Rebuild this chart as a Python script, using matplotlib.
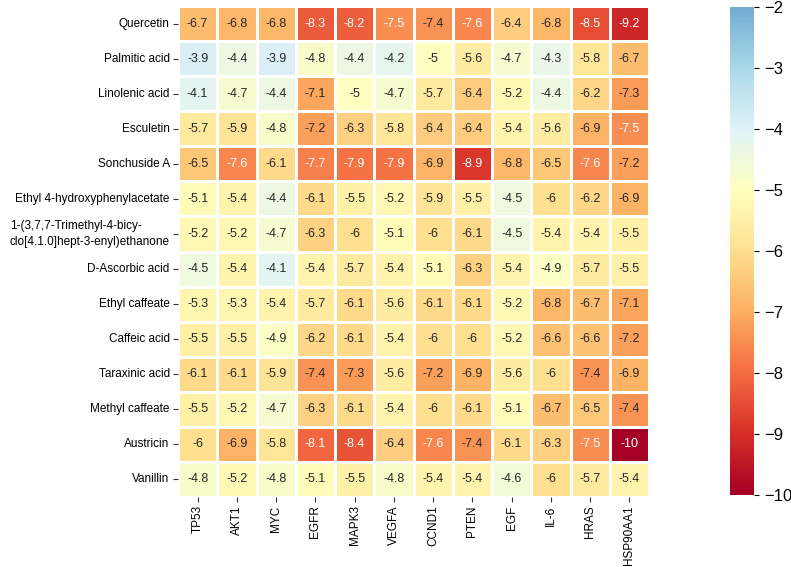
import matplotlib
matplotlib.use("Agg")
import matplotlib.pyplot as plt
import numpy as np
import seaborn as sns

compounds = ["Quercetin", "Palmitic acid", "Linolenic acid", "Esculetin", "Sonchuside A",
             "Ethyl 4-hydroxyphenylacetate",
             "1-(3,7,7-Trimethyl-4-bicy-\nclo[4.1.0]hept-3-enyl)ethanone",
             "D-Ascorbic acid", "Ethyl caffeate", "Caffeic acid", "Taraxinic acid",
             "Methyl caffeate", "Austricin", "Vanillin"]
targets = ["TP53", "AKT1", "MYC", "EGFR", "MAPK3", "VEGFA", "CCND1", "PTEN", "EGF",
           "IL-6", "HRAS", "HSP90AA1"]

quercetin = [-6.7, -6.8, -6.8, -8.3, -8.2, -7.5, -7.4, -7.6, -6.4, -6.8, -8.5, -9.2]
palmitic = [-3.9, -4.4, -3.9, -4.8, -4.4, -4.2, -5, -5.6, -4.7, -4.3, -5.8, -6.7]
linolenic = [-4.1, -4.7, -4.4, -7.1, -5, -4.7, -5.7, -6.4, -5.2, -4.4, -6.2, -7.3]
esculetin = [-5.7, -5.9, -4.8, -7.2, -6.3, -5.8, -6.4, -6.4, -5.4, -5.6, -6.9, -7.5]
sonchuside = [-6.5, -7.6, -6.1, -7.7, -7.9, -7.9, -6.9, -8.9, -6.8, -6.5, -7.6, -7.2]
ethyl_hpa = [-5.1, -5.4, -4.4, -6.1, -5.5, -5.2, -5.9, -5.5, -4.5, -6, -6.2, -6.9]
trimethyl = [-5.2, -5.2, -4.7, -6.3, -6, -5.1, -6, -6.1, -4.5, -5.4, -5.4, -5.5]
ascorbic = [-4.5, -5.4, -4.1, -5.4, -5.7, -5.4, -5.1, -6.3, -5.4, -4.9, -5.7, -5.5]
ethyl_caff = [-5.3, -5.3, -5.4, -5.7, -6.1, -5.6, -6.1, -6.1, -5.2, -6.8, -6.7, -7.1]
caffeic = [-5.5, -5.5, -4.9, -6.2, -6.1, -5.4, -6, -6, -5.2, -6.6, -6.6, -7.2]
taraxinic = [-6.1, -6.1, -5.9, -7.4, -7.3, -5.6, -7.2, -6.9, -5.6, -6, -7.4, -6.9]
methyl_caff = [-5.5, -5.2, -4.7, -6.3, -6.1, -5.4, -6, -6.1, -5.1, -6.7, -6.5, -7.4]
austricin = [-6, -6.9, -5.8, -8.1, -8.4, -6.4, -7.6, -7.4, -6.1, -6.3, -7.5, -10]
vanillin = [-4.8, -5.2, -4.8, -5.1, -5.5, -4.8, -5.4, -5.4, -4.6, -6, -5.7, -5.4]

data = np.array([quercetin, palmitic, linolenic, esculetin, sonchuside, ethyl_hpa,
                 trimethyl, ascorbic, ethyl_caff, caffeic, taraxinic, methyl_caff,
                 austricin, vanillin])

plt.rcParams['font.family'] = ['Liberation Sans', 'DejaVu Sans']

fig = plt.figure(figsize=(7.91, 5.67), dpi=100)
W, H = 791, 567
ax = fig.add_axes([178 / W, 1 - 497 / H, (649 - 178) / W, (497 - 6) / H])
cax = fig.add_axes([730 / W, 1 - 495 / H, (754 - 730) / W, (495 - 7) / H])

sns.heatmap(data, ax=ax, cbar_ax=cax, cmap="RdYlBu", vmin=-10, vmax=-2, center=-5,
            annot=True, fmt="g", annot_kws={"fontsize": 9},
            linewidths=1, linecolor="white",
            xticklabels=targets, yticklabels=compounds)

ax.tick_params(axis="both", labelsize=8.5, length=3.5, width=0.8, pad=2.5,
               color="#333333")
plt.setp(ax.get_xticklabels(), rotation=90)
plt.setp(ax.get_yticklabels(), rotation=0)
for lbl in ax.get_yticklabels():
    if "\n" in lbl.get_text():
        lbl.set_multialignment("left")
        lbl.set_linespacing(1.5)

cax.tick_params(labelsize=12, length=3.5, width=0.8)
cax.set_yticks([-10, -9, -8, -7, -6, -5, -4, -3, -2])

fig.savefig("out.png", dpi=100)
